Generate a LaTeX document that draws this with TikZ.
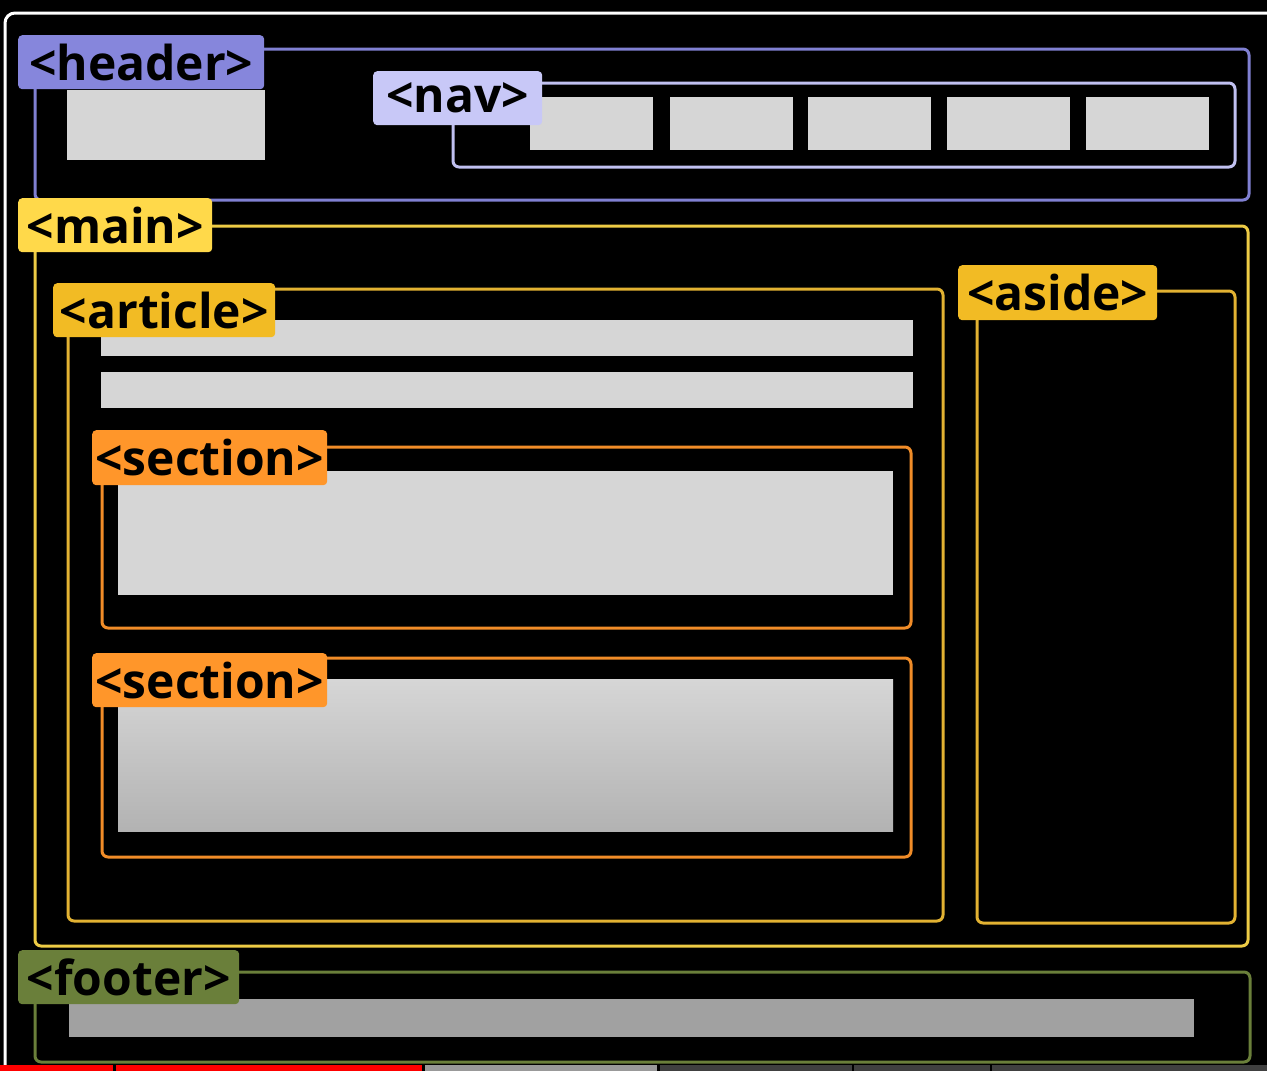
\documentclass[tikz,border=0pt]{standalone}
\usepackage{fontspec}
\setmainfont{Open Sans}
\begin{document}
\begin{tikzpicture}[x=1pt,y=-1pt,
  lbl/.style={anchor=north west, rounded corners=4pt, inner sep=0pt, text=black,
     font=\fontsize{48}{48}\selectfont\bfseries},
  boxline/.style={line width=3pt, rounded corners=6pt},
  grey/.style={fill=gbox, draw=none}]
\definecolor{gbox}{HTML}{D6D6D6}
\definecolor{hdr}{HTML}{8686DC}
\definecolor{hdrline}{HTML}{8080D2}
\definecolor{nav}{HTML}{C8C8F7}
\definecolor{navline}{HTML}{C0C0F0}
\definecolor{mainc}{HTML}{FFD94A}
\definecolor{mainline}{HTML}{EDCB45}
\definecolor{art}{HTML}{F2BB24}
\definecolor{artline}{HTML}{E2B232}
\definecolor{sec}{HTML}{FF962A}
\definecolor{secline}{HTML}{F08C28}
\definecolor{foot}{HTML}{6A7F3A}
\definecolor{footline}{HTML}{6A7F3A}
\useasboundingbox (0,0) rectangle (1267,1071);
\clip (0,0) rectangle (1267,1071);
\fill[black] (0,0) rectangle (1267,1071);
% outer white frame
\draw[white, line width=3pt, rounded corners=10pt] (5,1090) -- (5,13) -- (1290,13);
% header
\draw[boxline, hdrline] (35,49) rectangle (1249,200);
\fill[grey] (67,90) rectangle (265,160);
\draw[boxline, navline] (453,83) rectangle (1235,167);
\foreach \a/\b in {530/653, 670/793, 808/931, 947/1070, 1086/1209}
  \fill[grey] (\a,97) rectangle (\b,150);
% main
\draw[boxline, mainline] (35,226) rectangle (1248,946);
\draw[boxline, artline] (68,289) rectangle (943,921);
\fill[grey] (101,320) rectangle (913,356);
\fill[grey] (101,372) rectangle (913,408);
\draw[boxline, secline] (102,447) rectangle (911,628);
\fill[grey] (118,471) rectangle (893,595);
\draw[boxline, secline] (102,658) rectangle (911,857);
\shade[top color=gbox, bottom color=black!30!white] (118,679) rectangle (893,831);
\draw[boxline, artline] (977,291) rectangle (1235,923);
% footer
\draw[boxline, footline] (35,972) rectangle (1250,1062);
\fill[fill=black!37!white] (69,999) rectangle (1194,1037);
% labels
\node[lbl, fill=hdr, minimum width=246pt, minimum height=54pt] (header) at (18,35) {<header>};
\node[lbl, fill=nav, minimum width=169pt, minimum height=54pt] (navl) at (373,71) {<nav>};
\node[lbl, fill=mainc, minimum width=194pt, minimum height=54pt] (mainl) at (18,198) {<main>};
\node[lbl, fill=art, minimum width=222pt, minimum height=54pt] (article) at (53,283) {<article>};
\node[lbl, fill=art, minimum width=199pt, minimum height=55pt] (aside) at (958,265) {<aside>};
\node[lbl, fill=sec, minimum width=235pt, minimum height=55pt] (sec1) at (92,430) {<section>};
\node[lbl, fill=sec, minimum width=235pt, minimum height=54pt] (sec2) at (92,653) {<section>};
\node[lbl, fill=foot, minimum width=221pt, minimum height=54pt] (footer) at (18,950) {<footer>};
% progress bar
\fill[red] (0,1065) rectangle (113,1071);
\fill[red] (116,1065) rectangle (422,1071);
\fill[black!40!white] (425,1065) rectangle (657,1071);
\fill[black!75!white] (660,1065) rectangle (852,1071);
\fill[black!75!white] (854,1065) rectangle (990,1071);
\fill[black!75!white] (992,1065) rectangle (1267,1071);
\end{tikzpicture}
\end{document}
